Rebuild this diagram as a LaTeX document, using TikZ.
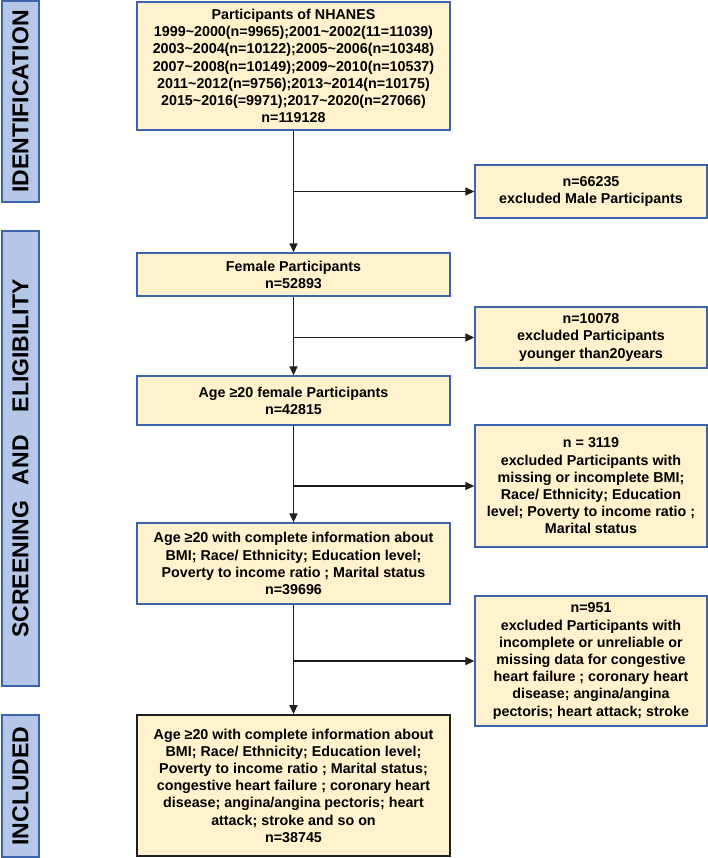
\documentclass[tikz,border=0pt]{standalone}
\usepackage{fontspec}
\setmainfont{Liberation Sans}
\usetikzlibrary{arrows.meta}
\definecolor{boxfill}{HTML}{FFF2CC}
\definecolor{boxline}{HTML}{3B64AD}
\definecolor{sidefill}{HTML}{B4C7E7}
\definecolor{arrline}{HTML}{1E1E1E}
\newcommand{\tld}{\textasciitilde}
\begin{document}
\begin{tikzpicture}[x=1pt,y=-1pt,
  mainbox/.style={draw=boxline,fill=boxfill,line width=1.3pt,inner sep=0pt,
    minimum width=313pt,align=center,
    font=\bfseries\fontsize{14.3}{17.2}\selectfont},
  sidebox/.style={draw=boxline,fill=boxfill,line width=1.3pt,inner sep=0pt,
    minimum width=232pt,align=center,
    font=\bfseries\fontsize{14.3}{17.2}\selectfont},
  stagebox/.style={draw=boxline,fill=sidefill,line width=1.3pt,inner sep=0pt,
    rotate=90,minimum height=37pt,
    font=\bfseries\fontsize{23}{27}\selectfont},
  arr/.style={draw=arrline,line width=1.4pt,-{Triangle[length=9pt,width=8pt]}},
  ln/.style={draw=arrline,line width=1.4pt}]
\useasboundingbox (0,0) rectangle (708,858);

% stage labels
\node[stagebox,minimum width=201pt] (sid) at (20.5,101.5) {IDENTIFICATION};
\node[stagebox,minimum width=455pt] (sscr) at (20.5,458.5) {SCREENING\hspace{16pt}AND\hspace{23pt}ELIGIBILITY};
\node[stagebox,minimum width=142pt] (sinc) at (20.5,786) {INCLUDED};

% main column
\node[mainbox,minimum height=128pt] (top) at (293.5,66) {Participants of NHANES\\
1999\tld2000(n=9965);2001\tld2002(11=11039)\\
2003\tld2004(n=10122);2005\tld2006(n=10348)\\
2007\tld2008(n=10149);2009\tld2010(n=10537)\\
2011\tld2012(n=9756);2013\tld2014(n=10175)\\
2015\tld2016(=9971);2017\tld2020(n=27066)\\
n=119128};
\node[mainbox,minimum height=43pt] (fem) at (293.5,274.5) {Female Participants\\n=52893};
\node[mainbox,minimum height=49pt] (age) at (293.5,400.5) {Age ≥20 female Participants\\n=42815};
\node[mainbox,minimum height=81pt] (comp) at (293.5,563.5) {Age ≥20 with complete information about\\
BMI; Race/ Ethnicity; Education level;\\
Poverty to income ratio ; Marital status\\
n=39696};
\node[mainbox,draw=arrline,line width=1.8pt,minimum height=141pt] (fin) at (293.5,785.5) {Age ≥20 with complete information about\\
BMI; Race/ Ethnicity; Education level;\\
Poverty to income ratio ; Marital status;\\
congestive heart failure ; coronary heart\\
disease; angina/angina pectoris; heart\\
attack; stroke and so on\\
n=38745};

% exclusion boxes
\node[sidebox,minimum height=53pt] (ex1) at (591,191.5) {n=66235\\excluded Male Participants};
\node[sidebox,minimum height=61pt] (ex2) at (591,337.5) {n=10078\\excluded Participants\\younger than20years};
\node[sidebox,minimum height=122pt] (ex3) at (591,486) {n = 3119\\
excluded Participants with\\
missing or incomplete BMI;\\
Race/ Ethnicity; Education\\
level; Poverty to income ratio ;\\
Marital status};
\node[sidebox,minimum height=130pt] (ex4) at (591,661) {n=951\\
excluded Participants with\\
incomplete or unreliable or\\
missing data for congestive\\
heart failure ; coronary heart\\
disease; angina/angina\\
pectoris; heart attack; stroke};

% connectors
\coordinate (b1) at (top.south |- ex1.west);
\coordinate (b2) at (fem.south |- ex2.west);
\coordinate (b3) at (age.south |- ex3.west);
\coordinate (b4) at (comp.south |- ex4.west);
\draw[arr] (top.south) -- (fem.north);
\draw[arr] (fem.south) -- (age.north);
\draw[arr] (age.south) -- (comp.north);
\draw[arr] (comp.south) -- (fin.north);
\draw[arr] (b1) -- (ex1.west);
\draw[arr] (b2) -- (ex2.west);
\draw[arr] (b3) -- (ex3.west);
\draw[arr] (b4) -- (ex4.west);
\end{tikzpicture}
\end{document}
